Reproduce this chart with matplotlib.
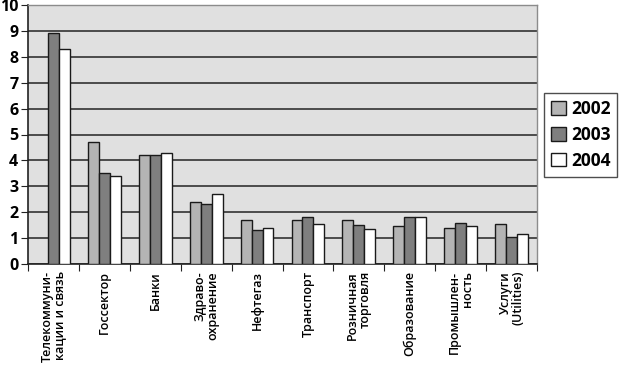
import matplotlib
matplotlib.use("Agg")
import matplotlib.pyplot as plt
import numpy as np

plt.rcParams["font.family"] = ["Open Sans", "DejaVu Sans"]
plt.rcParams["font.weight"] = "semibold"

categories = ["Телекоммуни-\nкации и связь", "Госсектор", "Банки", "Здраво-\nохранение",
              "Нефтегаз", "Транспорт", "Розничная\nторговля", "Образование",
              "Промышлен-\nность", "Услуги\n(Utilities)"]
years = ["2002", "2003", "2004"]
v2002 = [np.nan, 4.7, 4.2, 2.4, 1.7, 1.7, 1.7, 1.45, 1.4, 1.55]
v2003 = [8.9, 3.5, 4.2, 2.3, 1.3, 1.8, 1.5, 1.8, 1.6, 1.05]
v2004 = [8.3, 3.4, 4.3, 2.7, 1.4, 1.55, 1.35, 1.8, 1.45, 1.15]
series = [v2002, v2003, v2004]
colors = ["#b4b4b4", "#7f7f7f", "#ffffff"]

fig = plt.figure(figsize=(6.2, 3.66), dpi=100)
ax = fig.add_axes([28/620, 1-264/366, (537-28)/620, (264-5)/366])
ax.set_facecolor("#e0e0e0")

x = np.arange(len(categories))
w = 0.215
for i, (vals, c, y) in enumerate(zip(series, colors, years)):
    ax.bar(x + (i-1)*w, vals, w, color=c, edgecolor="#1a1a1a", linewidth=1.0,
           label=y, zorder=3)

ax.set_xlim(-0.5, len(categories)-0.5)
ax.set_ylim(0, 10)
ax.set_yticks(range(0, 11))
ax.yaxis.grid(True, color="#404040", linewidth=1.3, zorder=0)
ax.set_axisbelow(True)

ax.set_xticks(np.arange(-0.5, len(categories)), minor=False)
ax.set_xticklabels([])
ax.set_xticks(x, minor=True)
ax.set_xticklabels(categories, minor=True, rotation=90, ha="center", va="top",
                   multialignment="right", fontsize=9, linespacing=1.0)
ax.tick_params(axis="x", which="minor", length=0, pad=5)
ax.tick_params(axis="x", which="major", length=5, direction="out", color="#222222")
ax.tick_params(axis="y", length=5, direction="out", labelsize=11.5, pad=2, color="#222222")
for t in ax.get_yticklabels():
    t.set_fontweight("bold")

for s in ["left", "bottom"]:
    ax.spines[s].set_color("#222222")
    ax.spines[s].set_linewidth(1.2)
for s in ["top", "right"]:
    ax.spines[s].set_color("#8c8c8c")
    ax.spines[s].set_linewidth(1.0)

leg = fig.legend(loc="upper left", bbox_to_anchor=(544/620, 1-93/366),
                 frameon=True, fancybox=False, edgecolor="#222222",
                 prop={"size": 12.5, "weight": "bold"},
                 handlelength=0.85, handleheight=0.85, handletextpad=0.3,
                 borderpad=0.4, labelspacing=0.45, borderaxespad=0)
leg.get_frame().set_linewidth(1.0)

fig.savefig("out.png", dpi=100)
